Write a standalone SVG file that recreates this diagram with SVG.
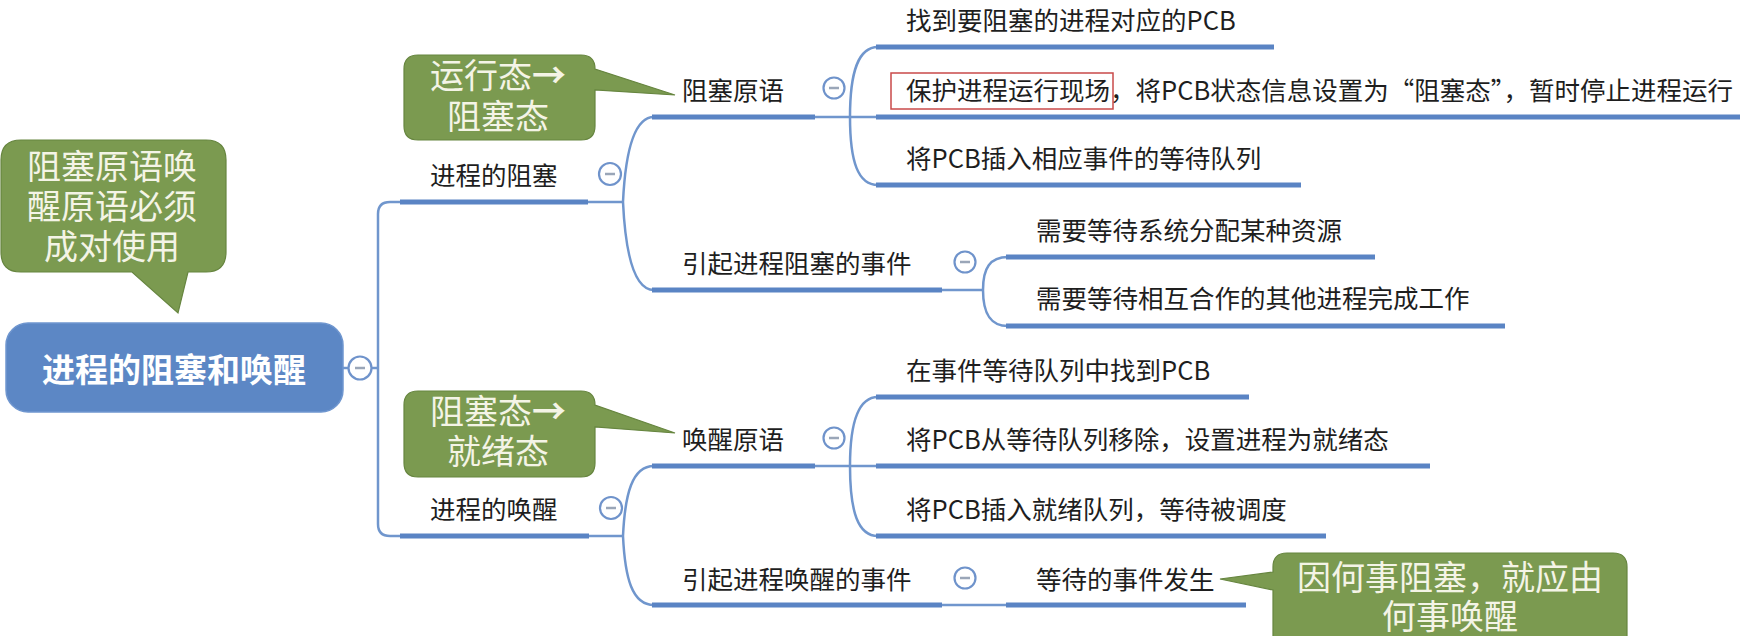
<svg xmlns="http://www.w3.org/2000/svg" width="1740" height="636" viewBox="0 0 1740 636">
<style>
  .bg { fill: #ffffff; }
  .t { font-family: "Noto Sans CJK SC", "Liberation Sans", sans-serif; font-size: 25.5px; fill: #1e1e1e; }
  .root { fill: #5c87c5; stroke: #6f96cf; stroke-width: 1.5; }
  .roott { font-family: "Noto Sans CJK SC", "Liberation Sans", sans-serif; font-size: 33px; font-weight: bold; fill: #ffffff; }
  .bar { stroke: #5a84c4; stroke-width: 5; fill: none; }
  .con { stroke: #7096cd; stroke-width: 2.5; fill: none; }
  .bub { fill: #7b9a50; stroke: #66853f; stroke-width: 1.2; }
  .bt { font-family: "Noto Sans CJK SC", "Liberation Sans", sans-serif; font-size: 34px; fill: #f4f4e6; text-anchor: middle; }
  .arr { font-weight: bold; }
  .col circle { fill: #ffffff; stroke: #6f93cb; stroke-width: 2.2; }
  .col line { stroke: #9aa6b8; stroke-width: 2.5; }
  .hl { fill: none; stroke: #c94a4a; stroke-width: 1.5; }
</style>
<rect class="bg" x="0" y="0" width="1740" height="636"/>

<g id="connectors">
  <path class="con" d="M343 368 H378"/>
  <path class="con" d="M402 202 H390 Q378 202 378 214 V524 Q378 536 390 536 H402"/>
  <path class="con" d="M588 202 H623"/>
  <path class="con" d="M623 202 C625 160 632 117 654 117"/>
  <path class="con" d="M623 202 C625 244 632 290 654 290"/>
  <path class="con" d="M815 117 H878"/>
  <path class="con" d="M850 117 C850 72 858 47 878 47"/>
  <path class="con" d="M850 117 C850 162 858 185 878 185"/>
  <path class="con" d="M942 290 H983"/>
  <path class="con" d="M983 290 C983 268 990 257 1008 257"/>
  <path class="con" d="M983 290 C983 313 990 326 1008 326"/>
  <path class="con" d="M589 536 H623"/>
  <path class="con" d="M623 536 C625 494 632 466 654 466"/>
  <path class="con" d="M623 536 C625 578 632 605 654 605"/>
  <path class="con" d="M815 466 H878"/>
  <path class="con" d="M850 466 C850 422 858 397 878 397"/>
  <path class="con" d="M850 466 C850 512 858 536 878 536"/>
  <path class="con" d="M942 605 H1008"/>
</g>

<g id="root">
  <rect class="root" x="6" y="323" width="337" height="89" rx="22"/>
  <text class="roott" x="174" y="382" text-anchor="middle">进程的阻塞和唤醒</text>
  <g class="col"><circle cx="360" cy="368" r="11.5"/><line x1="355" y1="368" x2="365" y2="368"/></g>
</g>

<g id="n-block">
  <line class="bar" x1="400" y1="202" x2="588" y2="202"/>
  <text class="t" x="430" y="185">进程的阻塞</text>
  <g class="col"><circle cx="610" cy="174" r="11"/><line x1="605" y1="174" x2="615" y2="174"/></g>
</g>

<g id="n-block-prim">
  <line class="bar" x1="652" y1="117" x2="815" y2="117"/>
  <text class="t" x="682" y="100">阻塞原语</text>
  <g class="col"><circle cx="834" cy="88" r="10.5"/><line x1="829" y1="88" x2="839" y2="88"/></g>
</g>

<g id="n-bp1">
  <line class="bar" x1="876" y1="47" x2="1274" y2="47"/>
  <text class="t" x="906" y="30">找到要阻塞的进程对应的PCB</text>
</g>
<g id="n-bp2">
  <line class="bar" x1="876" y1="117" x2="1740" y2="117"/>
  <rect class="hl" x="891" y="73" width="222" height="36"/>
  <text class="t" x="906" y="100">保护进程运行现场，将PCB状态信息设置为“阻塞态”，暂时停止进程运行</text>
</g>
<g id="n-bp3">
  <line class="bar" x1="876" y1="185" x2="1301" y2="185"/>
  <text class="t" x="906" y="168">将PCB插入相应事件的等待队列</text>
</g>

<g id="n-block-event">
  <line class="bar" x1="652" y1="290" x2="942" y2="290"/>
  <text class="t" x="682" y="273">引起进程阻塞的事件</text>
  <g class="col"><circle cx="965" cy="262" r="10.5"/><line x1="960" y1="262" x2="970" y2="262"/></g>
</g>
<g id="n-be1">
  <line class="bar" x1="1006" y1="257" x2="1375" y2="257"/>
  <text class="t" x="1036" y="240">需要等待系统分配某种资源</text>
</g>
<g id="n-be2">
  <line class="bar" x1="1006" y1="326" x2="1505" y2="326"/>
  <text class="t" x="1036" y="308">需要等待相互合作的其他进程完成工作</text>
</g>

<g id="n-wake">
  <line class="bar" x1="400" y1="536" x2="589" y2="536"/>
  <text class="t" x="430" y="519">进程的唤醒</text>
  <g class="col"><circle cx="611" cy="508" r="11"/><line x1="606" y1="508" x2="616" y2="508"/></g>
</g>

<g id="n-wake-prim">
  <line class="bar" x1="652" y1="466" x2="815" y2="466"/>
  <text class="t" x="682" y="449">唤醒原语</text>
  <g class="col"><circle cx="834" cy="438" r="10.5"/><line x1="829" y1="438" x2="839" y2="438"/></g>
</g>
<g id="n-wp1">
  <line class="bar" x1="876" y1="397" x2="1249" y2="397"/>
  <text class="t" x="906" y="380">在事件等待队列中找到PCB</text>
</g>
<g id="n-wp2">
  <line class="bar" x1="876" y1="466" x2="1430" y2="466"/>
  <text class="t" x="906" y="449">将PCB从等待队列移除，设置进程为就绪态</text>
</g>
<g id="n-wp3">
  <line class="bar" x1="876" y1="536" x2="1326" y2="536"/>
  <text class="t" x="906" y="519">将PCB插入就绪队列，等待被调度</text>
</g>

<g id="n-wake-event">
  <line class="bar" x1="652" y1="605" x2="942" y2="605"/>
  <text class="t" x="682" y="589">引起进程唤醒的事件</text>
  <g class="col"><circle cx="965" cy="578" r="10.5"/><line x1="960" y1="578" x2="970" y2="578"/></g>
</g>
<g id="n-we1">
  <line class="bar" x1="1006" y1="605" x2="1246" y2="605"/>
  <text class="t" x="1036" y="589">等待的事件发生</text>
</g>

<g id="callout-pair">
  <path class="bub" d="M21 140 H206 Q226 140 226 160 V252 Q226 272 206 272 H188 L178 313 L132 272 H21 Q1 272 1 252 V160 Q1 140 21 140 Z"/>
  <text class="bt" x="112" y="179"><tspan x="112" y="179">阻塞原语唤</tspan><tspan x="112" y="219">醒原语必须</tspan><tspan x="112" y="259">成对使用</tspan></text>
</g>

<g id="callout-run-block">
  <path class="bub" d="M418 55 H581 Q595 55 595 69 L675 95 L595 90 V126 Q595 140 581 140 H418 Q404 140 404 126 V69 Q404 55 418 55 Z"/>
  <text class="bt" x="498" y="88"><tspan x="498" y="88">运行态<tspan class="arr">→</tspan></tspan><tspan x="498" y="129">阻塞态</tspan></text>
</g>

<g id="callout-block-ready">
  <path class="bub" d="M418 391 H581 Q595 391 595 405 L675 433 L595 427 V463 Q595 477 581 477 H418 Q404 477 404 463 V405 Q404 391 418 391 Z"/>
  <text class="bt" x="498" y="424"><tspan x="498" y="424">阻塞态<tspan class="arr">→</tspan></tspan><tspan x="498" y="464">就绪态</tspan></text>
</g>

<g id="callout-event">
  <path class="bub" d="M1287 553 H1613 Q1627 553 1627 567 V660 H1273 V590 L1220 579 L1273 572 V567 Q1273 553 1287 553 Z"/>
  <text class="bt" x="1450" y="590"><tspan x="1450" y="590">因何事阻塞，就应由</tspan><tspan x="1450" y="629">何事唤醒</tspan></text>
</g>
</svg>
